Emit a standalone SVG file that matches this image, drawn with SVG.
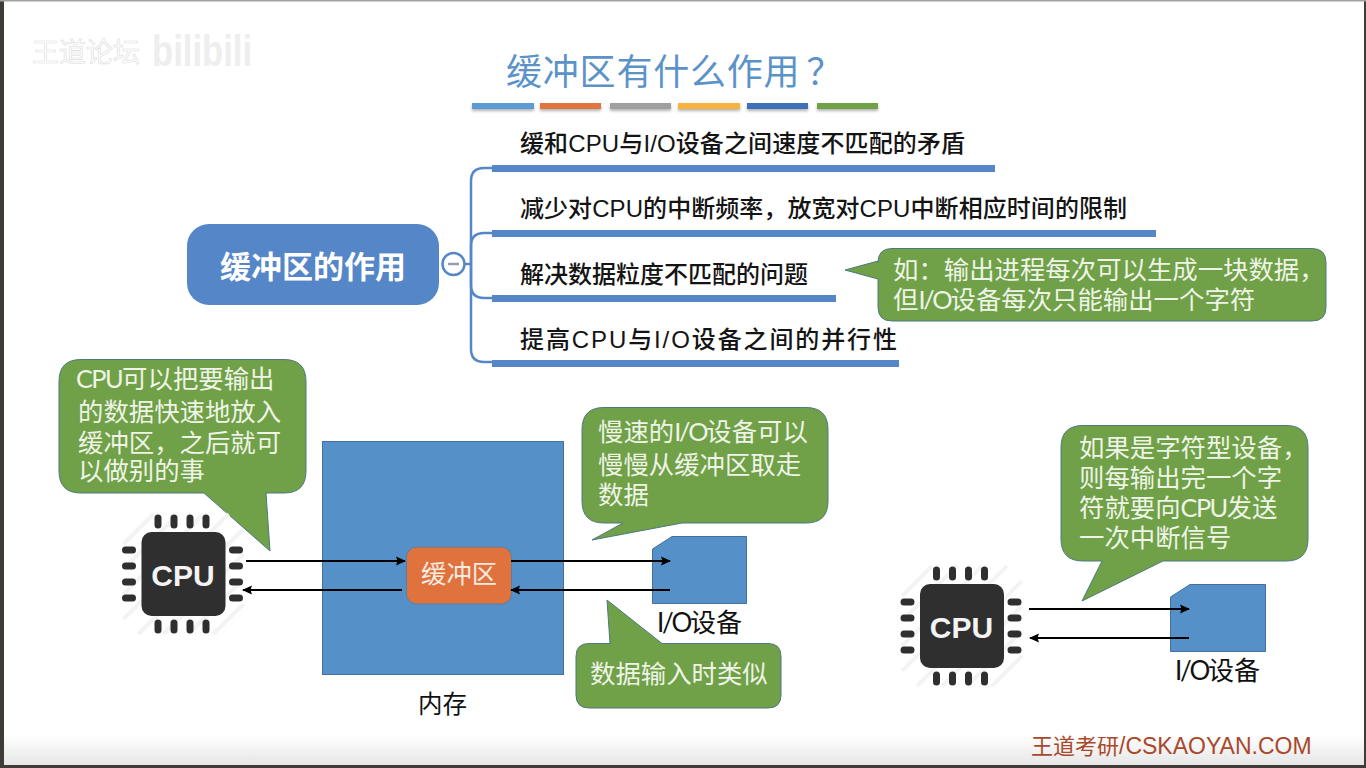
<svg xmlns="http://www.w3.org/2000/svg" width="1366" height="768" viewBox="0 0 1366 768">
<style>
text{font-family:"Lato","Noto Sans CJK SC",sans-serif}
.cn{font-family:"Noto Sans CJK SC",sans-serif}
.bar{stroke:none}
.item{font-family:"Liberation Sans","Noto Sans CJK SC",sans-serif;font-size:24px;font-weight:500;fill:#141414}
.call{fill:#70a047;stroke:#4d7a80;stroke-width:1}
.ct{font-size:25.400px;fill:#eef4e6}
.blue{fill:#5590c8;stroke:#41719c;stroke-width:1}
.lab{font-size:26px;fill:#111}
.arrow{stroke:#000;stroke-width:2;fill:none;marker-end:url(#ah)}
.tree{stroke:#5486c8;stroke-width:2.5;fill:none}
.chiptext{font-family:"Liberation Sans",sans-serif;font-weight:700;font-size:30px;fill:#f4f4f4}
.n{letter-spacing:-1.6px}
.io{letter-spacing:-2.2px}
</style>
<defs>
<marker id="ah" markerWidth="10" markerHeight="10" refX="9" refY="5" orient="auto" markerUnits="userSpaceOnUse"><path d="M0 0.500L10 5L0 9.500L1.500 5Z" fill="#000"/></marker>
<filter id="sh" x="-5%" y="-50%" width="110%" height="250%"><feDropShadow dx="0" dy="2" stdDeviation="1.5" flood-color="#000" flood-opacity=".3"/></filter>
<linearGradient id="bot" x1="0" y1="0" x2="0" y2="1"><stop offset="0" stop-color="#fff"/><stop offset="1" stop-color="#e6e6e6"/></linearGradient>
<g id="chip">
<path d="M-60 -30L-30 -60M-60 -5L-5 -60M-60 20L20 -60M-60 45L45 -60M-45 60L60 -45M-20 60L60 -20M5 60L60 5M30 60L60 30" stroke="#f3f3f3" stroke-width="4" fill="none"/>
<rect x="-42" y="-42" width="84" height="84" rx="10" fill="#2f2f2f"/>
<g stroke="#2f2f2f" stroke-width="7" stroke-linecap="round" fill="none">
<path d="M-25.500 -56V-49M-9.500 -56V-49M6.500 -56V-49M22.500 -56V-49M-25.500 49V56M-9.500 49V56M6.500 49V56M22.500 49V56"/>
<path d="M-58 -24H-51M-58 -8H-51M-58 8H-51M-58 24H-51M49 -24H56M49 -8H56M49 8H56M49 24H56"/>
</g>
</g>
</defs>

<rect width="1366" height="768" fill="#3f3b36"/>
<rect x="4" y="1" width="1360" height="764" fill="#fff"/>
<rect x="4" y="735" width="1360" height="30" fill="url(#bot)"/>
<rect x="0" y="0" width="1366" height="1.500" fill="#a0a0a0"/>

<g id="watermark">
<text x="32" y="62" class="cn" font-size="27" fill="#fff" stroke="#dcdcdc" stroke-width=".6">王道论坛</text>
<text x="152" y="66" font-size="45" font-weight="900" fill="#eeeeee" textLength="100" lengthAdjust="spacingAndGlyphs" style="font-family:'Liberation Sans',sans-serif">bilibili</text>
</g>

<g id="title">
<text x="506" y="85" class="cn" font-size="36" fill="#5b93c9" letter-spacing=".8">缓冲区有什么作用<tspan dx="6">？</tspan></text>
<g filter="url(#sh)">
<rect class="bar" x="472" y="103" width="62" height="6" fill="#5b9bd5"/>
<rect class="bar" x="540" y="103" width="61" height="6" fill="#e07540"/>
<rect class="bar" x="610" y="103" width="61" height="6" fill="#a0a0a0"/>
<rect class="bar" x="678" y="103" width="62" height="6" fill="#f6b33d"/>
<rect class="bar" x="747" y="103" width="61" height="6" fill="#4170b8"/>
<rect class="bar" x="817" y="103" width="61" height="6" fill="#70a047"/>
</g>
</g>

<g id="root">
<rect x="187" y="224" width="252" height="81" rx="22" fill="#5486c8"/>
<text x="220" y="278" class="cn" font-size="31" font-weight="700" fill="#fff">缓冲区的作用</text>
</g>

<g id="item1">
<rect class="bar" x="492" y="165" width="503" height="7" fill="#5486c8"/>
<text class="item" x="520" y="152" textLength="445">缓和CPU与I/O设备之间速度不匹配的矛盾</text>
</g>
<g id="item2">
<rect class="bar" x="492" y="230" width="664" height="7" fill="#5486c8"/>
<text class="item" x="520" y="217" textLength="607">减少对CPU的中断频率，放宽对CPU中断相应时间的限制</text>
</g>
<g id="item3">
<rect class="bar" x="492" y="295" width="344" height="7" fill="#5486c8"/>
<text class="item" x="520" y="283">解决数据粒度不匹配的问题</text>
</g>
<g id="item4">
<rect class="bar" x="492" y="360" width="407" height="7" fill="#5486c8"/>
<text class="item" x="520" y="348" textLength="377">提高CPU与I/O设备之间的并行性</text>
</g>

<g id="note-example">
<path class="call" d="M892 248.500H1312Q1326 248.500 1326 262.500V307Q1326 321 1312 321H892Q878 321 878 307V279L845 270L878 261V262.500Q878 248.500 892 248.500Z"/>
<text class="ct" x="893" y="279">如：输出进程每次可以生成一块数据，</text>
<text class="ct" x="893" y="309">但<tspan class="io">I/O</tspan>设备每次只能输出一个字符</text>
</g>

<g id="note-cpu">
<path class="call" d="M81 359.500H284Q306 359.500 306 381.500V471Q306 493 284 493H266L270 551L204 493H81Q59 493 59 471V381.500Q59 359.500 81 359.500Z"/>
<text class="ct" x="76" y="388"><tspan class="n">CPU</tspan>可以把要输出</text>
<text class="ct" x="78" y="421">的数据快速地放入</text>
<text class="ct" x="78" y="452">缓冲区，之后就可</text>
<text class="ct" x="78" y="480">以做别的事</text>
</g>

<g id="cpu-left">
<use href="#chip" x="183.500" y="574"/>
<text class="chiptext" x="183" y="586" text-anchor="middle">CPU</text>
</g>

<g id="memory">
<rect class="blue" x="322.500" y="441.500" width="241" height="233"/>
<text class="cn" x="418" y="713" style="font-size:24.500px;fill:#111">内存</text>
</g>

<g id="buffer">
<rect x="406.500" y="547" width="105" height="57" rx="10" fill="#e0733d" stroke="#5b7f9f"/>
<text x="421" y="583" font-size="25.400" class="cn" fill="#f6ebe0">缓冲区</text>
</g>

<g id="note-slow">
<path class="call" d="M604 407.500H806Q828 407.500 828 429.500V501Q828 523 806 523H682L592 540L623 523H604Q582 523 582 501V429.500Q582 407.500 604 407.500Z"/>
<text class="ct" x="598" y="441">慢速的<tspan class="io">I/O</tspan>设备可以</text>
<text class="ct" x="598" y="474">慢慢从缓冲区取走</text>
<text class="ct" x="598" y="504">数据</text>
</g>

<g id="io-left">
<path class="blue" d="M652.500 549L672 536.500H746.500V603.500H652.500Z"/>
<text class="lab" x="657" y="632"><tspan class="io">I/O</tspan>设备</text>
</g>

<g id="note-input">
<path class="call" d="M589 643.500H610L607 600L662 643.500H768Q781 643.500 781 656.500V695Q781 708 768 708H589Q576 708 576 695V656.500Q576 643.500 589 643.500Z"/>
<text class="ct" x="590" y="683">数据输入时类似</text>
</g>

<g id="note-char">
<path class="call" d="M1083 425.500H1286Q1308 425.500 1308 447.500V539Q1308 561 1286 561H1163L1082 601L1102 561H1083Q1061 561 1061 539V447.500Q1061 425.500 1083 425.500Z"/>
<text class="ct" x="1079" y="457">如果是字符型设备，</text>
<text class="ct" x="1079" y="487">则每输出完一个字</text>
<text class="ct" x="1079" y="517">符就要向<tspan class="n">CPU</tspan>发送</text>
<text class="ct" x="1079" y="547">一次中断信号</text>
</g>

<g id="cpu-right">
<use href="#chip" x="962" y="626"/>
<text class="chiptext" x="961.500" y="638" text-anchor="middle">CPU</text>
</g>

<g id="io-right">
<path class="blue" d="M1170.500 597L1190 584.500H1265.500V651.500H1170.500Z"/>
<text class="lab" x="1175" y="680"><tspan class="io">I/O</tspan>设备</text>
</g>

<g id="footer">
<text x="1031" y="754" fill="#a8492c" style="font-family:'Liberation Sans','Noto Sans CJK SC',sans-serif;font-size:22px">王道考研<tspan font-size="23">/CSKAOYAN.COM</tspan></text>
</g>

<g id="connectors">
<path class="tree" d="M494 168H484Q471 168 471 181V349Q471 362 484 362H494"/>
<path class="tree" d="M494 233H484Q471 233 471 246V285Q471 298 484 298H494"/>
<path class="tree" d="M464 264H471"/>
<circle cx="453.500" cy="264" r="11" fill="#fff" stroke="#5486c8" stroke-width="2.500"/>
<path d="M448 264H459" stroke="#9a9ab0" stroke-width="2.500"/>
<line class="arrow" x1="246" y1="561" x2="405" y2="561"/>
<line class="arrow" x1="402" y1="590" x2="243" y2="590"/>
<line class="arrow" x1="511" y1="561" x2="670" y2="561"/>
<line class="arrow" x1="670" y1="590" x2="511" y2="590"/>
<line class="arrow" x1="1029" y1="609" x2="1189" y2="609"/>
<line class="arrow" x1="1189" y1="638" x2="1030" y2="638"/>
</g>
</svg>
